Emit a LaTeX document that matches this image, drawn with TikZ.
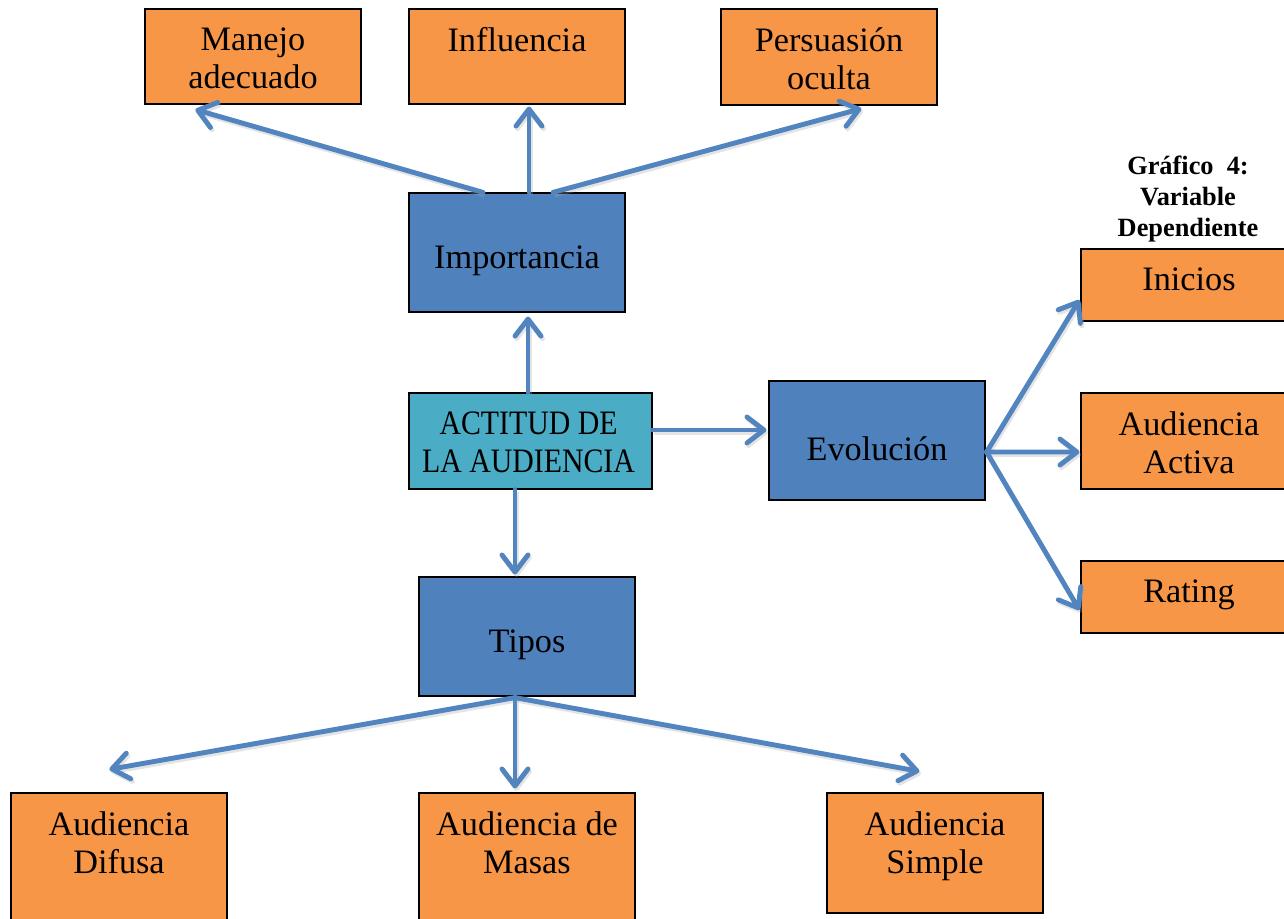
\documentclass[tikz,border=0pt]{standalone}
\usepackage{fontspec}
\setmainfont{Liberation Serif}
\newfontfamily\narrowserif[FakeStretch=0.87]{Liberation Serif}
\usetikzlibrary{arrows.meta,calc}
\definecolor{boxorange}{HTML}{F79646}
\definecolor{boxblue}{HTML}{4F81BD}
\definecolor{boxteal}{HTML}{4BACC6}
\definecolor{arrowblue}{HTML}{5284C0}
\tikzset{
  basebox/.style={draw=black, line width=0.7pt, inner sep=0pt, minimum width=4.32cm},
  obox/.style={basebox, fill=boxorange},
  bbox/.style={basebox, fill=boxblue, minimum height=2.38cm},
  tbox/.style={basebox, fill=boxteal, minimum width=4.86cm, minimum height=1.92cm},
  lbl/.style={anchor=north, align=center, inner sep=0pt, font=\fontsize{19.5}{21.6}\selectfont},
  clbl/.style={anchor=center, align=center, inner sep=0pt, font=\fontsize{19.5}{21.6}\selectfont},
  conn/.style={draw=arrowblue, line width=2.8pt, line cap=round, line join=round,
    -{Straight Barb[length=0.34cm, width=0.52cm, line cap=round, line join=round]},
    preaction={draw=black!35, opacity=0.3, line width=2.8pt, transform canvas={shift={(0.03cm,-0.05cm)}}}}
}
\begin{document}
\begin{tikzpicture}[x=0.02cm, y=-0.02cm]
\useasboundingbox (0,0) rectangle (1284,919);
\begin{scope}
\clip (0,0) rectangle (1284,919);
% top row
\node[obox, minimum height=1.9cm] (man) at (253,56.5) {};
\node[obox, minimum height=1.9cm] (inf) at (517,56.5) {};
\node[obox, minimum height=1.92cm] (per) at (829,57) {};
\node[lbl] (manT) at ($(man.north)+(0,19)$) {Manejo\\adecuado};
\node[lbl] (infT) at ($(inf.north)+(0,19)$) {Influencia};
\node[lbl] (perT) at ($(per.north)+(0,19)$) {Persuasión\\oculta};
% blue
\node[bbox] (imp) at (517,252.5) {};
\node[clbl] (impT) at ($(imp.center)+(0,8)$) {Importancia};
\node[tbox] (act) at (530.5,441) {};
\node[lbl, font=\fontsize{19.5}{21.6}\narrowserif] (actT) at ($(act.north)+(-2,19)$) {ACTITUD DE\\LA AUDIENCIA};
\node[bbox] (evo) at (877,440.5) {};
\node[clbl] (evoT) at ($(evo.center)+(0,8)$) {Evolución};
\node[bbox] (tip) at (527,636.5) {};
\node[clbl] (tipT) at ($(tip.center)+(0,8)$) {Tipos};
% right column
\node[obox, minimum height=1.44cm] (ini) at (1189,285) {};
\node[obox, minimum height=1.92cm] (aac) at (1189,441) {};
\node[obox, minimum height=1.44cm] (rat) at (1189,597) {};
\node[lbl] (iniT) at ($(ini.north)+(0,19)$) {Inicios};
\node[lbl] (aacT) at ($(aac.north)+(0,19)$) {Audiencia\\Activa};
\node[lbl] (ratT) at ($(rat.north)+(0,19)$) {Rating};
% bottom row
\node[obox, minimum height=2.6cm] (dif) at (119,858) {};
\node[obox, minimum height=2.6cm] (mas) at (527,858) {};
\node[obox, minimum height=2.4cm] (sim) at (935,853) {};
\node[lbl] (difT) at ($(dif.north)+(0,19)$) {Audiencia\\Difusa};
\node[lbl] (masT) at ($(mas.north)+(0,19)$) {Audiencia de\\Masas};
\node[lbl] (simT) at ($(sim.north)+(0,19)$) {Audiencia\\Simple};
\end{scope}
% title
\node[align=center, inner sep=0pt, font=\fontsize{15}{17.6}\selectfont\bfseries] (title) at (1188,199) {Gráfico\ \ 4:\\Variable\\Dependiente};
% connectors
\draw[conn] ($(imp.north)+(-34,0)$) -- ($(man.south west)+(51,5)$);
\draw[conn] ($(imp.north)+(12,0)$) -- ($(inf.south)+(12,2)$);
\draw[conn] ($(imp.north)+(36,0)$) -- ($(per.south west)+(141,3)$);
\draw[conn] ($(act.north)+(-2.5,0)$) -- ($(imp.south)+(11,4)$);
\draw[conn] ($(act.east)+(0,-11)$) -- ($(evo.west)+(-2,-10.5)$);
\draw[conn] ($(act.south)+(-15.5,0)$) -- ($(tip.north)+(-12,-2)$);
\draw[conn] ($(evo.east)+(1,11.5)$) -- ($(ini.west)+(-1,15)$);
\draw[conn] ($(evo.east)+(1,11.5)$) -- ($(aac.west)+(-1,11)$);
\draw[conn] ($(evo.east)+(1,11.5)$) -- ($(rat.west)+(-1,13)$);
\draw[conn] ($(tip.south)+(-12,1)$) -- ($(dif.north west)+(99,-23)$);
\draw[conn] ($(tip.south)+(-12,1)$) -- ($(mas.north)+(-12,-4)$);
\draw[conn] ($(tip.south)+(-12,1)$) -- ($(sim.north west)+(93,-21)$);
\end{tikzpicture}
\end{document}
